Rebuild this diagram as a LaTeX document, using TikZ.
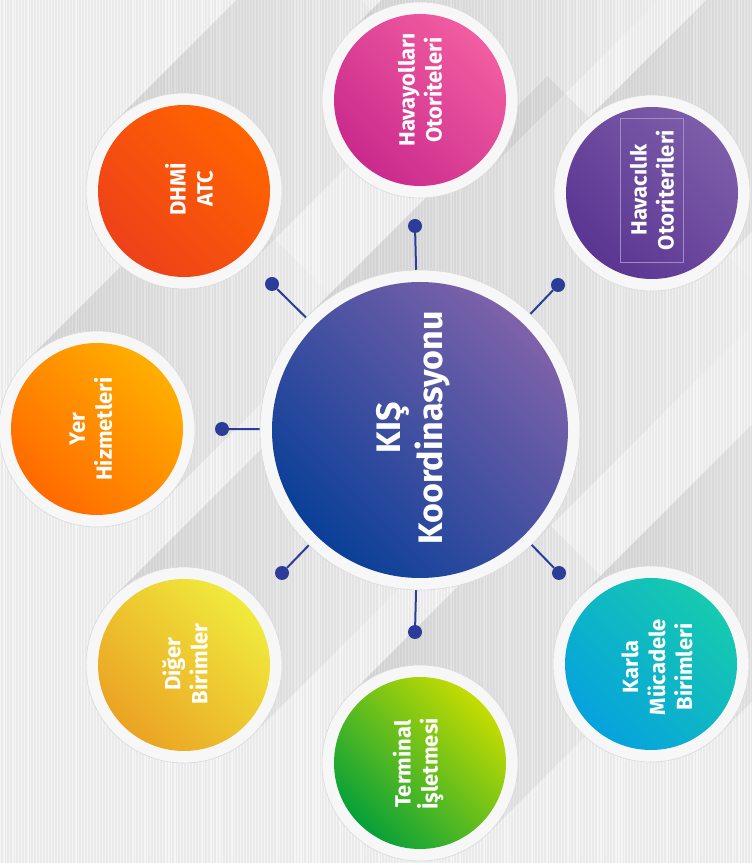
\documentclass[tikz,border=0pt]{standalone}
\usepackage{fontspec}
\newfontfamily\lblfont{Fira Sans}
\usetikzlibrary{positioning}

\definecolor{bgcol}{HTML}{EAEAEA}
\definecolor{rimfill}{HTML}{F7F7F7}
\definecolor{rimedge}{HTML}{DADADA}
\definecolor{navy}{HTML}{2B3D98}
\definecolor{hubA}{HTML}{0A3F98}
\definecolor{hubB}{HTML}{7E62AA}
\definecolor{pinkA}{HTML}{C92A8D}
\definecolor{pinkB}{HTML}{F25DA0}
\definecolor{purpA}{HTML}{5A3592}
\definecolor{purpB}{HTML}{7D5DA9}
\definecolor{redA}{HTML}{EE4119}
\definecolor{redB}{HTML}{FF6400}
\definecolor{orA}{HTML}{FF6A00}
\definecolor{orB}{HTML}{FFAE00}
\definecolor{yelA}{HTML}{EBA323}
\definecolor{yelB}{HTML}{F0EA3C}
\definecolor{grA}{HTML}{06A03A}
\definecolor{grB}{HTML}{C5DC00}
\definecolor{cyA}{HTML}{06A2DE}
\definecolor{cyB}{HTML}{16CAAE}
\definecolor{framecol}{HTML}{A08CC4}

\pgfdeclarelayer{back}
\pgfdeclarelayer{shades}
\pgfsetlayers{back,shades,main}

\begin{document}
\begin{tikzpicture}
      [ x=1pt, y=1pt,
        rim/.style={circle, fill=rimfill, draw=rimedge, line width=0.6pt,
          minimum size=196pt, inner sep=0pt},
        disc/.style 2 args={circle, minimum size=172pt, inner sep=0pt,
          bottom color=#1, top color=#2, shading angle=-45},
        lbl/.style={text=white, rotate=90, align=center, inner sep=0pt,
          font=\lblfont\bfseries\fontsize{22}{27}\selectfont},
        knob/.style={circle, fill=navy, minimum size=14pt, inner sep=0pt},
        spoke/.style={navy, line width=2pt},
        band/.style={rectangle, rotate=45, anchor=west, inner sep=0pt,
          minimum height=#1, minimum width=260pt,
          left color=black!11, right color=white, blend mode=multiply}
      ]
      \useasboundingbox (0,0) rectangle (752,863);
      \begin{pgfonlayer}{back}
        \fill[bgcol] (0,0) rectangle (752,863);
        \foreach \i in {0,3,...,750} {
          \pgfmathsetmacro\w{0.4+1.4*rnd}
          \fill[white, opacity=0.55] (\i,0) rectangle ++(\w,863);
        }
      \end{pgfonlayer}
      % long shadows
      \begin{pgfonlayer}{shades}
        \node[band=320pt, minimum width=340pt] at (420,433) {};
        \node[band=196pt] at (420,763) {};
        \node[band=196pt] at (652,670) {};
        \node[band=196pt] at (184,672) {};
        \node[band=196pt] at (97,434) {};
        \node[band=196pt] at (184,198) {};
        \node[band=196pt] at (420,100) {};
        \node[band=196pt] at (651,199) {};
      \end{pgfonlayer}

      % centre
      \node[rim, minimum size=320pt] (kisrim) at (420,433) {};
      \node[disc={hubA}{hubB}, minimum size=296pt] (kis) at (kisrim) {};
      \node[lbl, font=\lblfont\bfseries\fontsize{34}{42}\selectfont] (kistxt) at (413,435)
        {KIŞ\\Koordinasyonu};

      % satellites
      \node[rim] (havrim) at (420,763) {};
      \node[disc={pinkA}{pinkB}] (hav) at (havrim) {};
      \node[lbl] (havtxt) at (420,773) {Havayolları\\Otoriteleri};

      \node[rim] (otorim) at (652,670) {};
      \node[disc={purpA}{purpB}] (oto) at (otorim) {};
      \node[lbl, draw=framecol, line width=0.5pt, minimum width=144pt, minimum height=63pt]
        (ototxt) at (652,673) {Havacılık\\Otoriterileri};

      \node[rim] (dhmrim) at (184,672) {};
      \node[disc={redA}{redB}] (dhm) at (dhmrim) {};
      \node[lbl] (dhmtxt) at (189,674) {DHMİ\\ATC};

      \node[rim] (yerrim) at (97,434) {};
      \node[disc={orA}{orB}] (yer) at (yerrim) {};
      \node[lbl] (yertxt) at (91,434) {Yer\\Hizmetleri};

      \node[rim] (digrim) at (184,198) {};
      \node[disc={yelA}{yelB}] (dig) at (digrim) {};
      \node[lbl] (digtxt) at (185,199) {Diğer\\Birimler};

      \node[rim] (terrim) at (420,100) {};
      \node[disc={grA}{grB}] (ter) at (terrim) {};
      \node[lbl] (tertxt) at (418,99) {Terminal\\İşletmesi};

      \node[rim] (karrim) at (651,199) {};
      \node[disc={cyA}{cyB}] (kar) at (karrim) {};
      \node[lbl] (kartxt) at (657,196) {Karla\\Mücadele\\Birimleri};

      % spokes
      \node[knob] (kn1) at (415,637) {};
      \node[knob] (kn2) at (558,578) {};
      \node[knob] (kn3) at (272,579) {};
      \node[knob] (kn4) at (222,434) {};
      \node[knob] (kn5) at (282,290) {};
      \node[knob] (kn6) at (559,290) {};
      \node[knob] (kn7) at (415,231) {};
      \foreach \k in {1,...,7}
        \draw[spoke] (kisrim) -- (kn\k);
\end{tikzpicture}
\end{document}
